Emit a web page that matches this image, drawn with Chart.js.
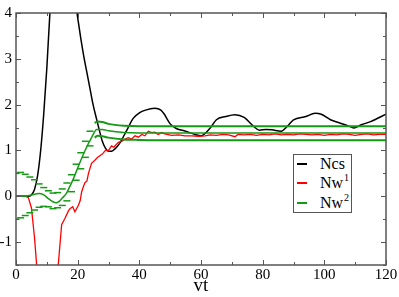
<!DOCTYPE html>
<html>
<head>
<meta charset="utf-8">
<script src="https://cdn.jsdelivr.net/npm/chart.js@4.4.1/dist/chart.umd.min.js"></script>
<style>
    html, body { margin: 0; padding: 0; background: #fff; }
    #wrap { position: relative; width: 399px; height: 297px; }
    #legend {
        position: absolute; left: 293px; top: 154px; width: 57px; height: 57px;
        border: 1px solid #555; background: #fff;
        font-family: 'Liberation Serif', 'DejaVu Serif', serif; font-size: 16px; color: #000;
    }
    .row { position: absolute; left: 0; width: 57px; height: 20px; line-height: 20px; }
    .swatch { position: absolute; left: 3px; top: 9px; width: 10px; height: 2px; }
    .label { position: absolute; left: 26px; top: 0; white-space: nowrap; line-height: 20px; }
    .sup { font-size: 10px; position: relative; top: -7px; line-height: 0; margin-left: 1px; }
</style>
</head>
<body>
<div id="wrap">
    <canvas id="chart" width="399" height="297"></canvas>
    <div id="legend"></div>
</div>
<script>
// Ncs
const ncsT = [0,4,5,6,7,8,9,10,11,12,13,14,15,16,17,18,19,20,21,22,23,24,25,26,27,28,29,30,31,32,33,34,36,38,40,42,45,47,48,50,52,55,58,60,63,65,68,71,74,77,79,81,83,86,88,90,94,97,99,102,105,108,109.5,112,115,120];
const ncsV = [0,0,0.03,0.15,0.45,1.0,1.8,2.8,4.0,4.8,5.3,5.6,5.7,5.6,5.3,4.9,4.4,3.9,3.45,3.05,2.7,2.35,2.0,1.72,1.45,1.2,1.05,0.98,0.98,1.03,1.1,1.2,1.45,1.7,1.82,1.88,1.92,1.88,1.8,1.58,1.48,1.42,1.35,1.32,1.49,1.67,1.74,1.78,1.72,1.53,1.44,1.46,1.45,1.42,1.53,1.67,1.74,1.81,1.79,1.67,1.6,1.53,1.49,1.56,1.63,1.79];

// Nw^1
const nw1T = [0,3,4,5,6,6.7,8,10,12,13.7,14.8,15.9,17,17.5,18.4,19.1,20.2,20.8,21.3,21.9,22.4,23,23.5,24.5,25.5,26.5,28,29,30,31,31.7,33.2,34.3,35.4,36.4,37.5,38.6,39.7,40.8,41.8,42.9,44,45,46.1,47.2,48.2,50.5,52.7,54.8,57,59.2,61.3,63,65,67,69,71,72,74,76,78,80,82,84,86,88,90,92,94,96,98,100,102,104,106,108,110,112,114,116,118,120];
const nw1V = [0,0,-0.03,-0.25,-0.9,-1.5,-2.6,-3.2,-2.6,-1.5,-0.62,-0.48,-0.32,-0.27,-0.23,-0.34,-0.2,-0.1,0.1,0.22,0.3,0.33,0.5,0.72,0.78,0.85,0.92,1.0,1.0,1.1,1.07,1.18,1.2,1.25,1.28,1.25,1.32,1.29,1.35,1.32,1.42,1.39,1.4,1.35,1.39,1.36,1.33,1.34,1.32,1.32,1.31,1.32,1.34,1.33,1.35,1.34,1.3,1.35,1.34,1.35,1.33,1.35,1.34,1.36,1.34,1.35,1.34,1.36,1.35,1.34,1.35,1.33,1.35,1.34,1.36,1.35,1.33,1.35,1.36,1.34,1.35,1.35];

// Nw^2 and its error bar caps
const nw2T = [0,3,5,7.5,9,10.5,12,13,14,15,16.4,17.5,18.6,20.2,22.4,24.5,26.2,28,30,35,40,50,60,80,100,120];
const nw2V = [0,0,0.03,0.06,0.03,-0.05,-0.12,-0.14,-0.11,-0.04,0.07,0.22,0.38,0.65,1.0,1.28,1.46,1.46,1.43,1.39,1.38,1.38,1.38,1.38,1.38,1.38];
const capT = [0,1.5,3,4.5,6,7.5,9,10.5,12,13.5,15,16.5,18,19.5,21,22.5,24];
const capUp = [0.5,0.52,0.48,0.42,0.36,0.27,0.19,0.12,0.07,0.08,0.16,0.29,0.47,0.7,0.95,1.2,1.42];
const capLo = [-0.5,-0.47,-0.42,-0.36,-0.3,-0.24,-0.22,-0.23,-0.27,-0.25,-0.2,-0.1,0.1,0.35,0.6,0.85,1.1];
const bandT = [25.5,26.5,28,30,35,40,50,60,120];
const bandUp = [1.6,1.63,1.62,1.58,1.54,1.53,1.53,1.53,1.53];
const bandLo = [1.28,1.32,1.31,1.28,1.24,1.23,1.22,1.22,1.22];

const xMajor = [0,20,40,60,80,100,120];
const xMinor = [10,30,50,70,90,110];
const yMajor = [-1,0,1,2,3,4];
const yMinor = [-1.5,-0.5,0.5,1.5,2.5,3.5];

const black = '#000000';
const red = '#ff0000';
const green = '#149a14';
const frameColour = '#555555';
const serif = "'Liberation Serif', 'DejaVu Serif', serif";

function pts(ts, vs) {
    return ts.map((t, i) => ({ x: t, y: vs[i] }));
}

function lineSet(label, ts, vs, colour, width, smooth) {
    return {
        label: label,
        data: pts(ts, vs),
        borderColor: colour,
        backgroundColor: colour,
        borderWidth: width,
        pointRadius: 0,
        fill: false,
        cubicInterpolationMode: smooth ? 'monotone' : 'default',
        tension: smooth ? 0.4 : 0
    };
}

function capSet(ts, vs) {
    return {
        label: 'caps',
        data: pts(ts, vs),
        showLine: false,
        pointStyle: 'line',
        pointRadius: 3.5,
        pointBorderWidth: 1.5,
        pointBorderColor: green,
        pointBackgroundColor: green
    };
}

const insideTicks = {
    id: 'insideTicks',
    afterDraw(chart) {
        const { ctx, chartArea: a, scales: { x, y } } = chart;
        ctx.save();
        ctx.strokeStyle = frameColour;
        ctx.lineWidth = 1;
        ctx.beginPath();
        xMajor.concat(xMinor).forEach(v => {
            const px = Math.round(x.getPixelForValue(v)) + 0.5;
            const len = xMajor.includes(v) ? 5 : 3;
            ctx.moveTo(px, a.bottom); ctx.lineTo(px, a.bottom - len);
            ctx.moveTo(px, a.top); ctx.lineTo(px, a.top + len);
        });
        yMajor.concat(yMinor).forEach(v => {
            const py = Math.round(y.getPixelForValue(v)) + 0.5;
            const len = yMajor.includes(v) ? 5 : 3;
            ctx.moveTo(a.left, py); ctx.lineTo(a.left + len, py);
            ctx.moveTo(a.right, py); ctx.lineTo(a.right - len, py);
        });
        ctx.stroke();
        ctx.lineWidth = 1.5;
        ctx.strokeRect(a.left, a.top, a.right - a.left, a.bottom - a.top);
        ctx.restore();
    }
};

new Chart(document.getElementById('chart'), {
    type: 'line',
    data: {
        datasets: [
            capSet(capT, capUp),
            capSet(capT, capLo),
            lineSet('bandUp', bandT, bandUp, green, 2, true),
            lineSet('bandLo', bandT, bandLo, green, 2, true),
            lineSet('Nw2', nw2T, nw2V, green, 1.5, true),
            lineSet('Nw1', nw1T, nw1V, red, 1.3, false),
            lineSet('Ncs', ncsT, ncsV, black, 1.5, true)
        ]
    },
    options: {
        responsive: false,
        devicePixelRatio: 1,
        animation: false,
        layout: { padding: { left: 0, top: 5, right: 13, bottom: 0 } },
        plugins: {
            legend: { display: false },
            tooltip: { enabled: false }
        },
        scales: {
            x: {
                type: 'linear',
                min: 0,
                max: 120,
                afterFit: s => { s.height = 32; },
                afterBuildTicks: s => { s.ticks = xMajor.map(v => ({ value: v })); },
                grid: { display: false, drawTicks: false },
                border: { display: false },
                ticks: { color: '#000', padding: 1, maxRotation: 0, font: { family: serif, size: 15 } },
                title: { display: true, text: 'vt', color: '#000', padding: { top: 0, bottom: 0 }, font: { family: serif, size: 19 } }
            },
            y: {
                type: 'linear',
                min: -1.5,
                max: 4,
                afterFit: s => { s.width = 16; },
                afterBuildTicks: s => { s.ticks = yMajor.map(v => ({ value: v })); },
                grid: { display: false, drawTicks: false },
                border: { display: false },
                ticks: { color: '#000', padding: 4, font: { family: serif, size: 15 } }
            }
        }
    },
    plugins: [insideTicks]
});

const legendItems = [
    { name: 'Ncs', sup: '', colour: black },
    { name: 'Nw', sup: '1', colour: red },
    { name: 'Nw', sup: '2', colour: green }
];
const legendRowTops = [-1, 18, 38];
const legend = document.getElementById('legend');
legendItems.forEach((item, i) => {
    const row = document.createElement('div');
    row.className = 'row';
    row.style.top = legendRowTops[i] + 'px';
    row.innerHTML = '<span class="swatch" style="background:' + item.colour + '"></span>' +
        '<span class="label">' + item.name + (item.sup ? '<span class="sup">' + item.sup + '</span>' : '') + '</span>';
    legend.appendChild(row);
});
</script>
</body>
</html>
